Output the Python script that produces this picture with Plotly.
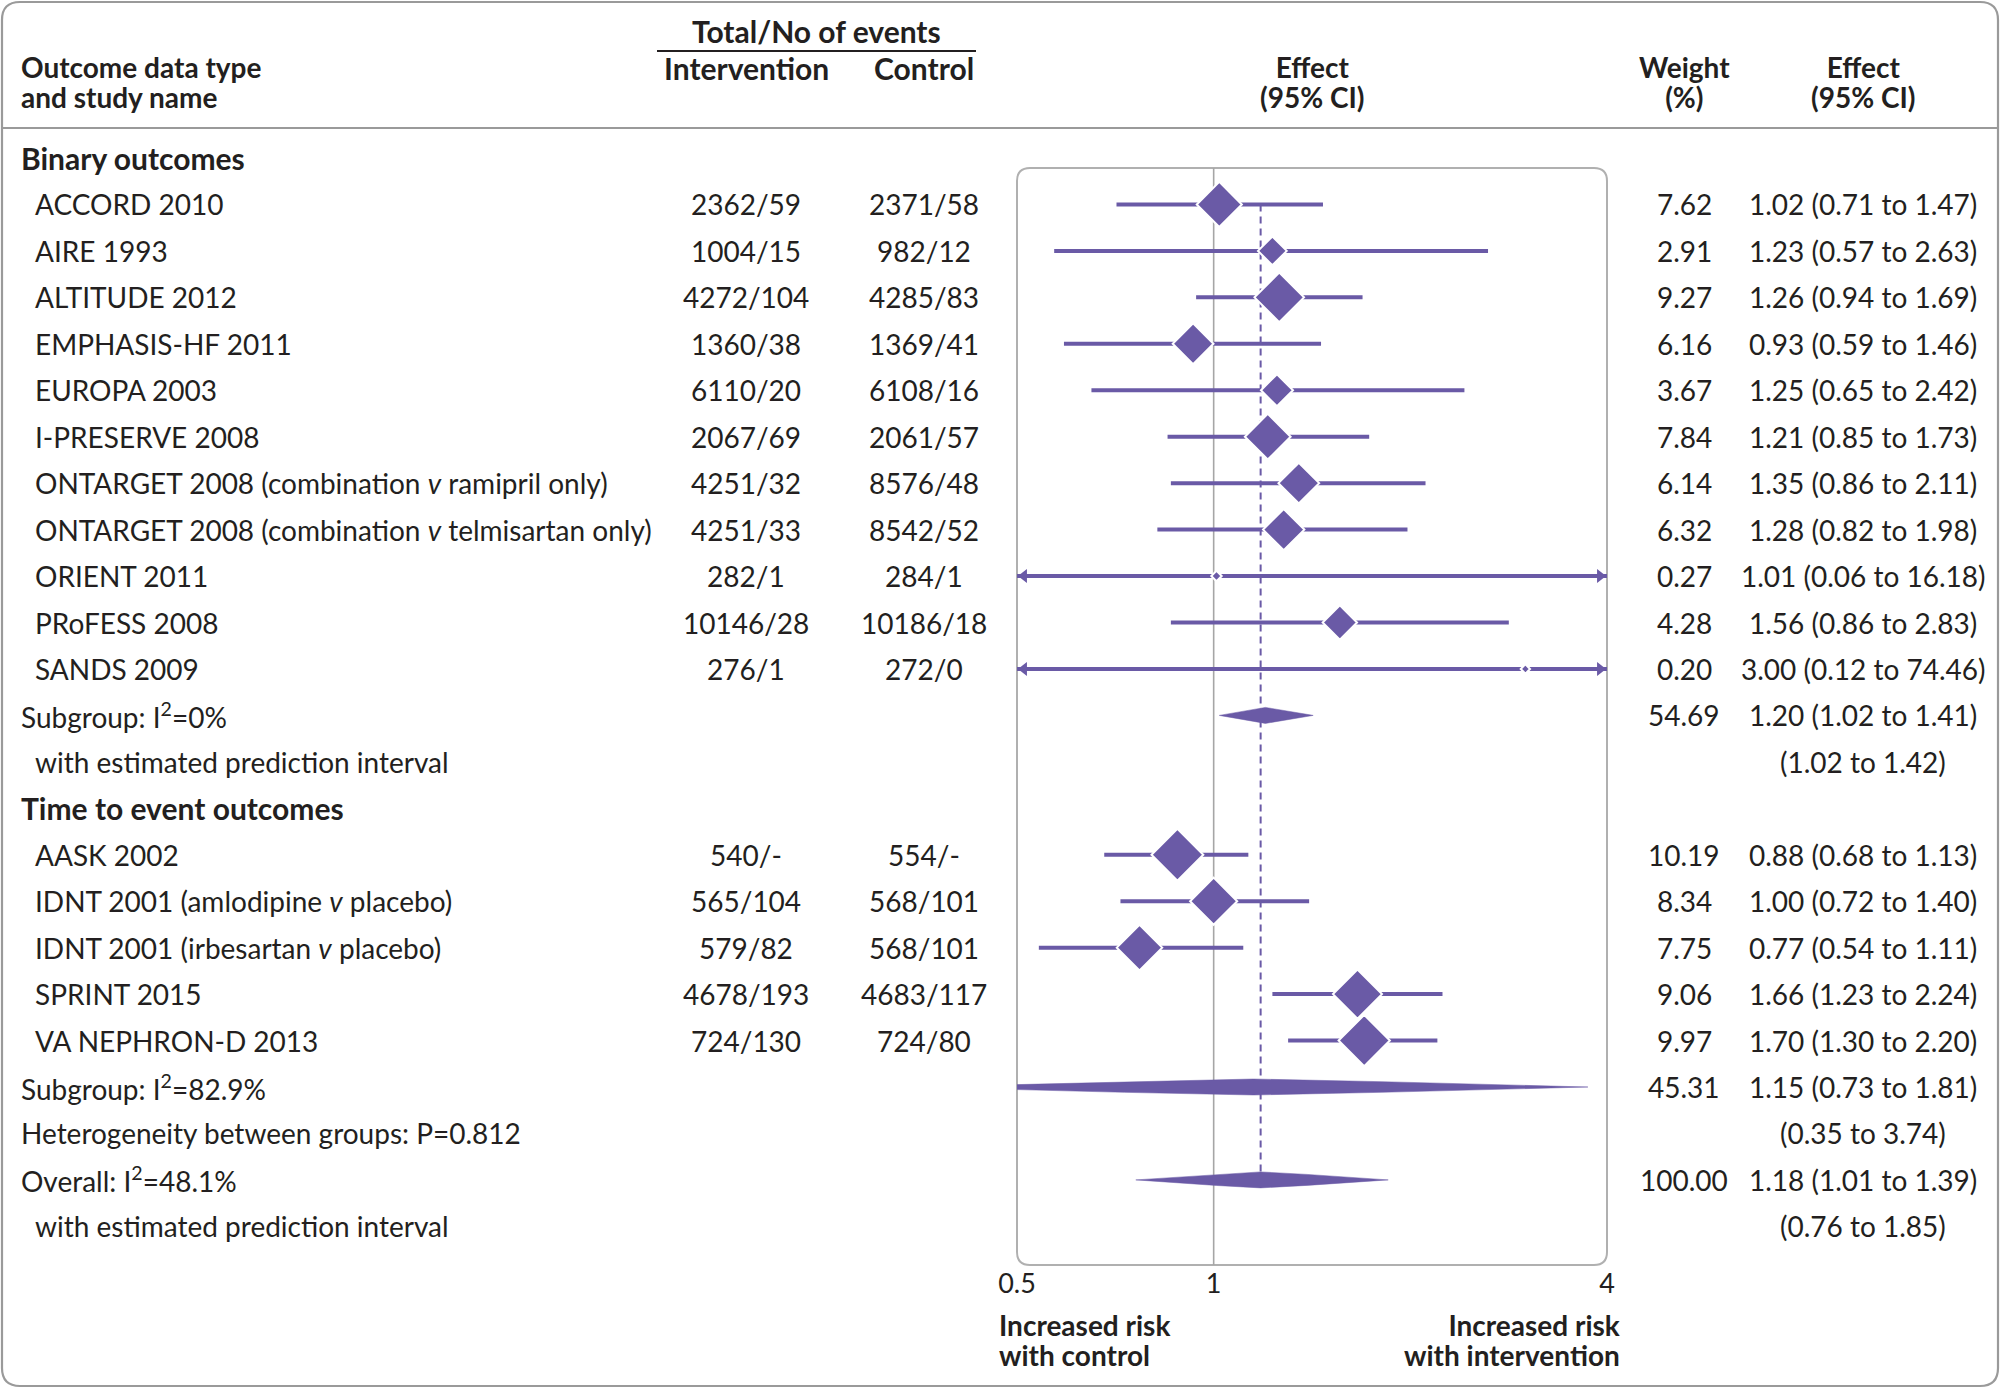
import math
import plotly.graph_objects as go

# ---------------- data ----------------
binary_names = [
    "ACCORD 2010", "AIRE 1993", "ALTITUDE 2012", "EMPHASIS-HF 2011", "EUROPA 2003",
    "I-PRESERVE 2008", "ONTARGET 2008 (combination <i>v</i> ramipril only)",
    "ONTARGET 2008 (combination <i>v</i> telmisartan only)", "ORIENT 2011",
    "PRoFESS 2008", "SANDS 2009",
]
binary_intervention = ["2362/59", "1004/15", "4272/104", "1360/38", "6110/20", "2067/69",
                       "4251/32", "4251/33", "282/1", "10146/28", "276/1"]
binary_control = ["2371/58", "982/12", "4285/83", "1369/41", "6108/16", "2061/57",
                  "8576/48", "8542/52", "284/1", "10186/18", "272/0"]
binary_weight = [7.62, 2.91, 9.27, 6.16, 3.67, 7.84, 6.14, 6.32, 0.27, 4.28, 0.20]
binary_est = [1.02, 1.23, 1.26, 0.93, 1.25, 1.21, 1.35, 1.28, 1.01, 1.56, 3.00]
binary_lci = [0.71, 0.57, 0.94, 0.59, 0.65, 0.85, 0.86, 0.82, 0.06, 0.86, 0.12]
binary_uci = [1.47, 2.63, 1.69, 1.46, 2.42, 1.73, 2.11, 1.98, 16.18, 2.83, 74.46]

tte_names = ["AASK 2002", "IDNT 2001 (amlodipine <i>v</i> placebo)",
             "IDNT 2001 (irbesartan <i>v</i> placebo)", "SPRINT 2015", "VA NEPHRON-D 2013"]
tte_intervention = ["540/-", "565/104", "579/82", "4678/193", "724/130"]
tte_control = ["554/-", "568/101", "568/101", "4683/117", "724/80"]
tte_weight = [10.19, 8.34, 7.75, 9.06, 9.97]
tte_est = [0.88, 1.00, 0.77, 1.66, 1.70]
tte_lci = [0.68, 0.72, 0.54, 1.23, 1.30]
tte_uci = [1.13, 1.40, 1.11, 2.24, 2.20]

summary_labels = ["Subgroup: I<sup>2</sup>=0%", "Subgroup: I<sup>2</sup>=82.9%", "Overall: I<sup>2</sup>=48.1%"]
summary_weight = [54.69, 45.31, 100.00]
summary_est = [1.20, 1.15, 1.18]
summary_lci = [1.02, 0.73, 1.01]
summary_uci = [1.41, 1.81, 1.39]
summary_pi_lo = [1.02, 0.35, 0.76]
summary_pi_hi = [1.42, 3.74, 1.85]

heterogeneity_label = "Heterogeneity between groups: P=0.812"
x_ticks = [0.5, 1, 4]
x_tick_text = ["0.5", "1", "4"]

# ---------------- layout helpers ----------------
W, H = 2000, 1388
PURPLE = "#6a5aa6"
INK = "#231f20"
GRAY = "#a6a6a6"
FONT = "Lato"
FS = 28        # regular text
FSB = 30       # bold text
FSB2 = 28      # bold text in two-line headers

ROW0_PX = 158.0
ROW_PX = 46.45
BOX = (1017, 168, 1607, 1265)  # left, top, right, bottom in px
Y_DOMAIN_TOP_PX = 132

def to_row(py):
    return (py - ROW0_PX) / ROW_PX

# row indices
r_binary_head = 0
binary_rows = list(range(1, 12))
r_sub1 = 12
r_sub1_pi = 13
r_tte_head = 14
tte_rows = list(range(15, 20))
r_sub2 = 20
r_het = 21
r_overall = 22
r_overall_pi = 23
summary_rows = [r_sub1, r_sub2, r_overall]

study_rows = binary_rows + tte_rows
study_est = binary_est + tte_est
study_lci = binary_lci + tte_lci
study_uci = binary_uci + tte_uci
study_weight = binary_weight + tte_weight

fig = go.Figure()

y_top, y_bot = to_row(BOX[1]), to_row(BOX[3])
px_per_log2 = (BOX[2] - BOX[0]) / math.log2(x_ticks[-1] / x_ticks[0])

# reference line at 1
fig.add_trace(go.Scatter(x=[1, 1], y=[y_top, y_bot], mode="lines",
                         line=dict(color=GRAY, width=1.6), hoverinfo="skip"))
# dashed overall line
fig.add_trace(go.Scatter(x=[summary_est[2], summary_est[2]], y=[binary_rows[0], r_overall],
                         mode="lines", line=dict(color=PURPLE, width=2, dash="7px,5px"),
                         hoverinfo="skip"))

# CI lines
xs, ys = [], []
for r, l, u in zip(study_rows, study_lci, study_uci):
    xs += [l, u, None]
    ys += [r, r, None]
fig.add_trace(go.Scatter(x=xs, y=ys, mode="lines", line=dict(color=PURPLE, width=4),
                         hoverinfo="skip"))

# arrowheads where intervals run past the axis
ARW = 12  # marker size
tip = ARW / 2 * 2 / math.sqrt(3)
ax_, ay_, asym = [], [], []
for r, l, u in zip(study_rows, study_lci, study_uci):
    if l < x_ticks[0]:
        ax_.append(x_ticks[0] * 2 ** (tip / px_per_log2)); ay_.append(r); asym.append("triangle-left")
    if u > x_ticks[-1]:
        ax_.append(x_ticks[-1] * 2 ** (-tip / px_per_log2)); ay_.append(r); asym.append("triangle-right")
fig.add_trace(go.Scatter(x=ax_, y=ay_, mode="markers", cliponaxis=False,
                         marker=dict(symbol=asym, size=ARW, color=PURPLE, opacity=1,
                                     line=dict(width=0)), hoverinfo="skip"))

# study diamonds
sizes = [15.5 * math.sqrt(w) / 1.3 + 1.8 for w in study_weight]
fig.add_trace(go.Scatter(x=study_est, y=study_rows, mode="markers",
                         marker=dict(symbol="diamond", size=sizes, color=PURPLE, opacity=1,
                                     line=dict(color="white", width=2)),
                         hoverinfo="skip", cliponaxis=False))

# summary diamonds (prediction-interval tips, CI shoulders)
half_h = 8.0 / ROW_PX
for r, e, l, u, pl, pu in zip(summary_rows, summary_est, summary_lci, summary_uci,
                              summary_pi_lo, summary_pi_hi):
    le, ll, lu = math.log(e), math.log(l), math.log(u)
    lpl, lpu = math.log(pl), math.log(pu)
    tl = half_h * (ll - lpl) / (le - lpl) * 1.08 if le != lpl else half_h
    tu = half_h * (lpu - lu) / (lpu - le) * 1.08 if lpu != le else half_h
    tl, tu = min(tl, half_h), min(tu, half_h)
    px_ = [pl, l, e, u, pu, u, e, l, pl]
    py_ = [r, r - tl, r - half_h, r - tu, r, r + tu, r + half_h, r + tl, r]
    fig.add_trace(go.Scatter(x=px_, y=py_, mode="lines", fill="toself", fillcolor=PURPLE,
                             line=dict(color=PURPLE, width=0.5), hoverinfo="skip"))

annotations = []

def txt(text, xpx, row=None, ypx=None, anchor="left", bold=False):
    d = dict(text=f"<b>{text}</b>" if bold else text, x=xpx / W, xref="paper",
             xanchor=anchor, yanchor="middle", showarrow=False,
             font=dict(family=FONT, size=FSB if bold else FS, color=INK))
    if row is not None:
        d.update(y=row, yref="y")
    else:
        d.update(y=1 - ypx / H, yref="paper")
    annotations.append(d)

def txt2(line1, line2, xpx, ypx1, ypx2, anchor="left"):
    """Two bold lines in one text block with tight line spacing."""
    base = (ypx2 - ypx1) / 1.3
    sp = f"<span style='font-size:{FSB2}px'>"
    annotations.append(dict(
        text=f"<b>{sp}{line1}</span></b><br><b>{sp}{line2}</span></b>",
        x=xpx / W, xref="paper", y=1 - (ypx1 + ypx2) / 2 / H, yref="paper",
        xanchor=anchor, yanchor="middle", align=anchor,
        showarrow=False, font=dict(family=FONT, size=base, color=INK)))

X_NAME, X_HEAD = 33, 19
X_INT, X_CTL, X_WT, X_EFF = 746, 924, 1684, 1863

def eff(e, l, u):
    return f"{e:.2f} ({l:.2f} to {u:.2f})"

# header
txt("Total/No of events", 816, ypx=31, anchor="center", bold=True)
txt2("Outcome data type", "and study name", X_HEAD, 67, 97)
txt("Intervention", X_INT, ypx=68, anchor="center", bold=True)
txt("Control", X_CTL, ypx=68, anchor="center", bold=True)
txt2("Effect", "(95% CI)", 1312, 67, 97, anchor="center")
txt2("Weight", "(%)", X_WT, 67, 97, anchor="center")
txt2("Effect", "(95% CI)", X_EFF, 67, 97, anchor="center")

# group headings
txt("Binary outcomes", X_HEAD, row=r_binary_head, bold=True)
txt("Time to event outcomes", X_HEAD, row=r_tte_head, bold=True)

for r, n, i, c, w, e, l, u in zip(binary_rows + tte_rows, binary_names + tte_names,
                                  binary_intervention + tte_intervention,
                                  binary_control + tte_control, study_weight,
                                  study_est, study_lci, study_uci):
    txt(n, X_NAME, row=r)
    txt(i, X_INT, row=r, anchor="center")
    txt(c, X_CTL, row=r, anchor="center")
    txt(f"{w:.2f}", X_WT, row=r, anchor="center")
    txt(eff(e, l, u), X_EFF, row=r, anchor="center")

for r, lab, w, e, l, u in zip(summary_rows, summary_labels, summary_weight,
                              summary_est, summary_lci, summary_uci):
    txt(lab, X_HEAD, row=r)
    txt(f"{w:.2f}", X_WT, row=r, anchor="center")
    txt(eff(e, l, u), X_EFF, row=r, anchor="center")

txt("with estimated prediction interval", X_NAME, row=r_sub1_pi)
txt(f"({summary_pi_lo[0]:.2f} to {summary_pi_hi[0]:.2f})", X_EFF, row=r_sub1_pi, anchor="center")
txt(heterogeneity_label, X_HEAD, row=r_het)
txt(f"({summary_pi_lo[1]:.2f} to {summary_pi_hi[1]:.2f})", X_EFF, row=r_het, anchor="center")
txt("with estimated prediction interval", X_NAME, row=r_overall_pi)
txt(f"({summary_pi_lo[2]:.2f} to {summary_pi_hi[2]:.2f})", X_EFF, row=r_overall_pi, anchor="center")

# bottom direction labels
txt2("Increased risk", "with control", 997, 1325, 1355, anchor="left")
txt2("Increased risk", "with intervention", 1622, 1325, 1355, anchor="right")

# ---------------- shapes ----------------
def P(x, y):
    return f"{x / W:.6f},{1 - y / H:.6f}"

def rrect(x0, y0, x1, y1, r):
    return (f"M{P(x0 + r, y0)} L{P(x1 - r, y0)} Q{P(x1, y0)} {P(x1, y0 + r)} "
            f"L{P(x1, y1 - r)} Q{P(x1, y1)} {P(x1 - r, y1)} L{P(x0 + r, y1)} "
            f"Q{P(x0, y1)} {P(x0, y1 - r)} L{P(x0, y0 + r)} Q{P(x0, y0)} {P(x0 + r, y0)} Z")

shapes = [
    dict(type="path", xref="paper", yref="paper", path=rrect(2, 2, 1998, 1386, 18),
         line=dict(color="#9a9a9a", width=2.2), layer="below"),
    dict(type="line", xref="paper", yref="paper", x0=2 / W, x1=1998 / W,
         y0=1 - 128 / H, y1=1 - 128 / H, line=dict(color="#9a9a9a", width=2.2), layer="below"),
    dict(type="line", xref="paper", yref="paper", x0=657 / W, x1=976 / W,
         y0=1 - 51 / H, y1=1 - 51 / H, line=dict(color=INK, width=2), layer="below"),
    dict(type="path", xref="paper", yref="paper", path=rrect(*BOX, 13),
         line=dict(color="#b0b0b0", width=2), layer="below"),
]

fig.update_layout(
    width=W, height=H, margin=dict(l=0, r=0, t=0, b=0, pad=0, autoexpand=False),
    paper_bgcolor="white", plot_bgcolor="rgba(0,0,0,0)", showlegend=False,
    shapes=shapes, annotations=annotations,
    xaxis=dict(type="log", range=[math.log10(x_ticks[0]), math.log10(x_ticks[-1])],
               domain=[BOX[0] / W, BOX[2] / W], showgrid=False, zeroline=False,
               showline=False, ticks="", tickvals=x_ticks, ticktext=x_tick_text,
               automargin=False,
               tickfont=dict(family=FONT, size=27, color=INK), fixedrange=True),
    yaxis=dict(range=[y_bot, to_row(Y_DOMAIN_TOP_PX)],
               domain=[1 - BOX[3] / H, 1 - Y_DOMAIN_TOP_PX / H],
               visible=False, automargin=False, fixedrange=True),
)

fig.write_html("out.html", config={"displayModeBar": False},
               post_script="document.body.style.margin='0px';document.body.style.overflow='hidden';")
